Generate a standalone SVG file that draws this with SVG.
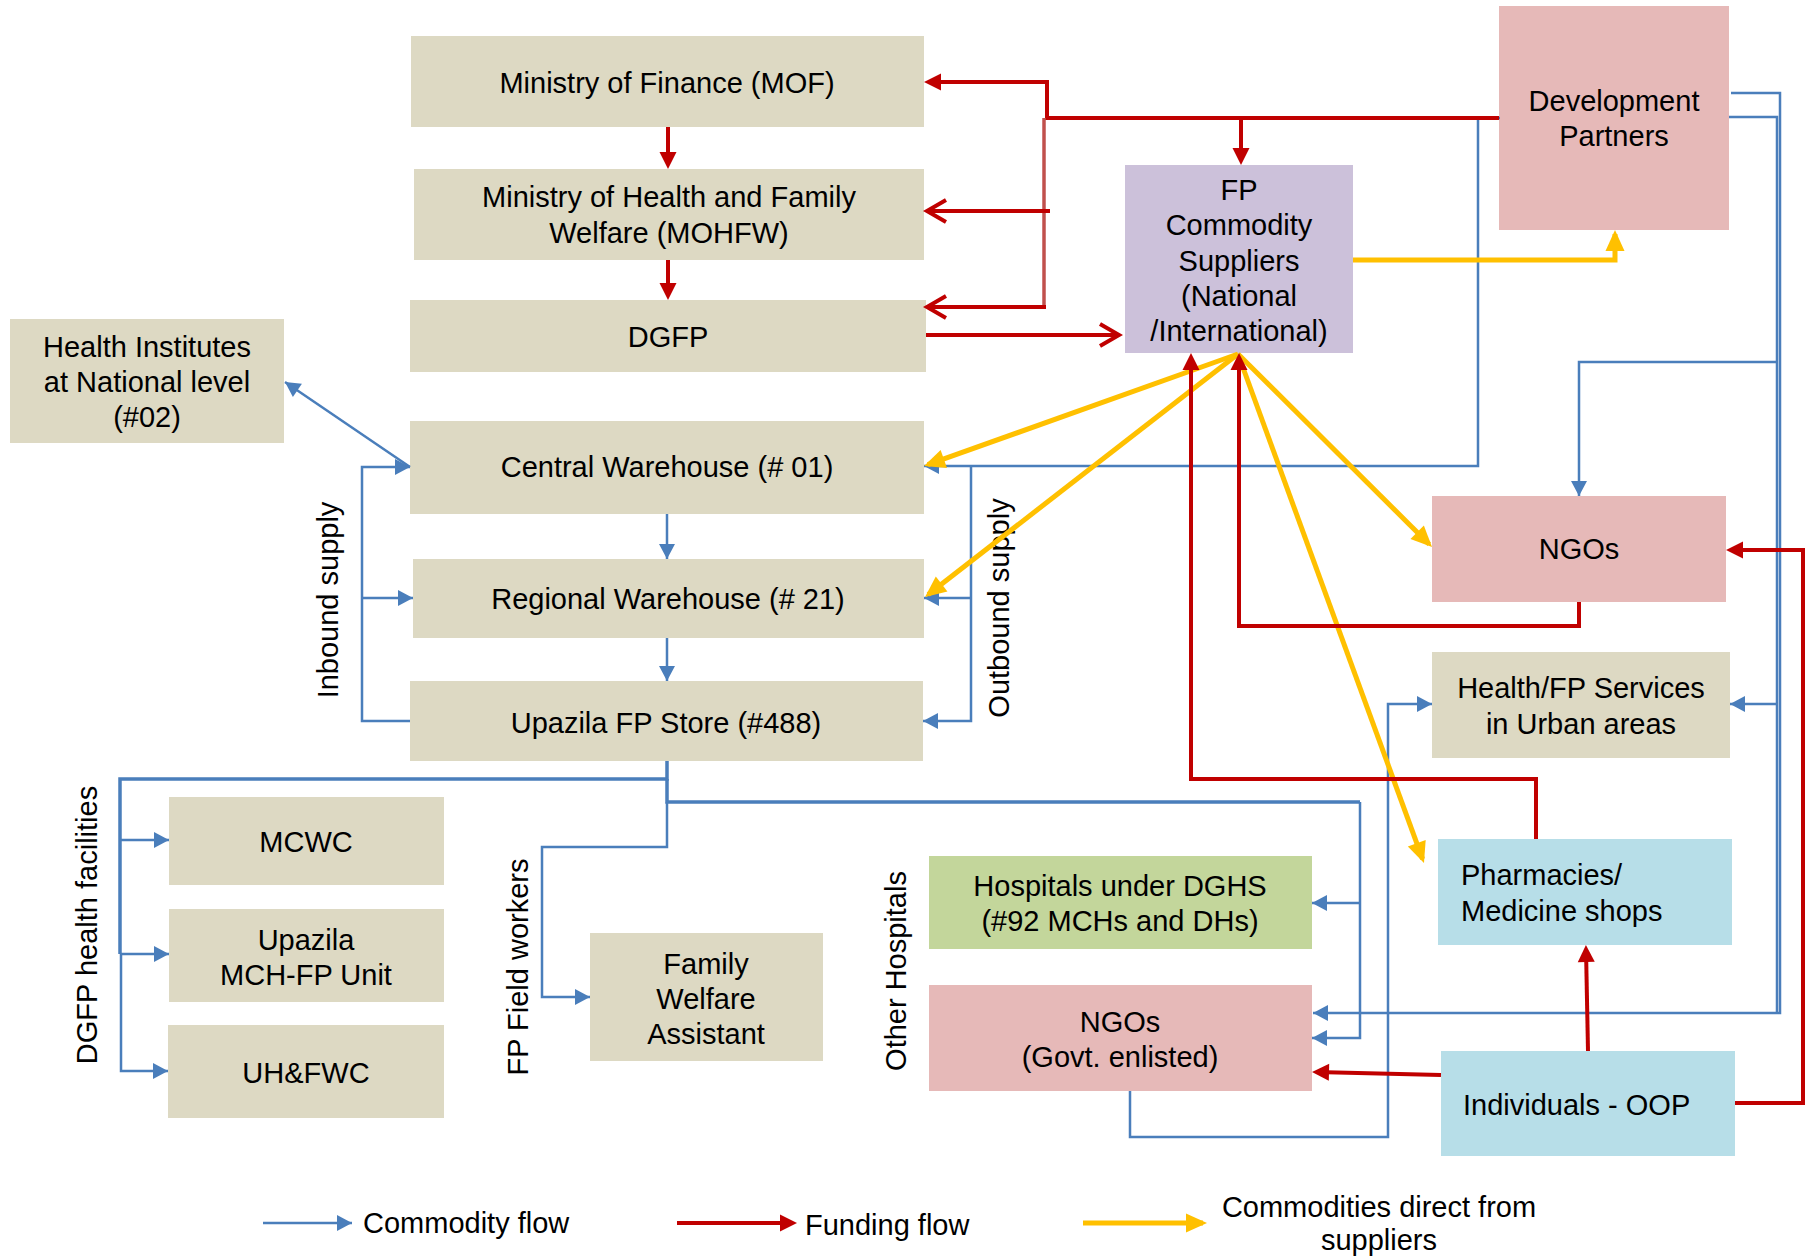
<svg xmlns="http://www.w3.org/2000/svg" width="1806" height="1256" viewBox="0 0 1806 1256">
<defs>
<style>
text{font-family:"Liberation Sans",Arial,sans-serif;font-size:29px;fill:#000}
.m{text-anchor:middle}
.tan{fill:#DDD9C3}.pink{fill:#E6B9B8}.lav{fill:#CCC1DA}.grn{fill:#C3D69B}.lb{fill:#B7DEE8}
path{fill:none;stroke-linejoin:miter}
.r{stroke:#C00000;stroke-width:4}
.r2{stroke:#C0504D;stroke-width:3.5}
.b{stroke:#4A7EBB;stroke-width:2.5}
.bt{stroke:#4A7EBB;stroke-width:3.5}
.y{stroke:#FFC000;stroke-width:5}
</style>
<marker id="ar" viewBox="0 0 17 17" markerWidth="17" markerHeight="17" refX="13" refY="8.5" orient="auto" markerUnits="userSpaceOnUse" overflow="visible"><path d="M0,0 L17,8.5 L0,17 Z" style="fill:#C00000;stroke:none"/></marker>
<marker id="ao" viewBox="0 0 22 24" markerWidth="22" markerHeight="24" refX="20" refY="12" orient="auto" markerUnits="userSpaceOnUse" overflow="visible"><path d="M1,1 L20,12 L1,23" style="fill:none;stroke:#C00000;stroke-width:4"/></marker>
<marker id="ab" viewBox="0 0 15 16" markerWidth="15" markerHeight="16" refX="15" refY="8" orient="auto" markerUnits="userSpaceOnUse" overflow="visible"><path d="M0,0 L15,8 L0,16 Z" style="fill:#4A7EBB;stroke:none"/></marker>
<marker id="ay" viewBox="0 0 21 19" markerWidth="21" markerHeight="19" refX="17" refY="9.5" orient="auto" markerUnits="userSpaceOnUse" overflow="visible"><path d="M0,0 L21,9.5 L0,19 Z" style="fill:#FFC000;stroke:none"/></marker>
</defs>
<rect width="1806" height="1256" fill="#fff"/>

<g id="nodes">
<g id="mof"><rect class="tan" x="411" y="36" width="513" height="91"/><text class="m" x="667" y="93">Ministry of Finance (MOF)</text></g>
<g id="mohfw"><rect class="tan" x="414" y="169" width="510" height="91"/><text class="m" x="669" y="207">Ministry of Health and Family</text><text class="m" x="669" y="243">Welfare (MOHFW)</text></g>
<g id="dgfp"><rect class="tan" x="410" y="300" width="516" height="72"/><text class="m" x="668" y="347">DGFP</text></g>
<g id="health-institutes"><rect class="tan" x="10" y="319" width="274" height="124"/><text class="m" x="147" y="357">Health Institutes</text><text class="m" x="147" y="392">at National level</text><text class="m" x="147" y="427">(#02)</text></g>
<g id="central-warehouse"><rect class="tan" x="410" y="421" width="514" height="93"/><text class="m" x="667" y="477">Central Warehouse (# 01)</text></g>
<g id="regional-warehouse"><rect class="tan" x="413" y="559" width="511" height="79"/><text class="m" x="668" y="609">Regional Warehouse (# 21)</text></g>
<g id="upazila-store"><rect class="tan" x="410" y="681" width="513" height="80"/><text class="m" x="666" y="733">Upazila FP Store (#488)</text></g>
<g id="mcwc"><rect class="tan" x="169" y="797" width="275" height="88"/><text class="m" x="306" y="852">MCWC</text></g>
<g id="mchfp"><rect class="tan" x="169" y="909" width="275" height="93"/><text class="m" x="306" y="950">Upazila</text><text class="m" x="306" y="985">MCH-FP Unit</text></g>
<g id="uhfwc"><rect class="tan" x="168" y="1025" width="276" height="93"/><text class="m" x="306" y="1083">UH&amp;FWC</text></g>
<g id="fwa"><rect class="tan" x="590" y="933" width="233" height="128"/><text class="m" x="706" y="974">Family</text><text class="m" x="706" y="1009">Welfare</text><text class="m" x="706" y="1044">Assistant</text></g>
<g id="suppliers"><rect class="lav" x="1125" y="165" width="228" height="188"/><text class="m" x="1239" y="200">FP</text><text class="m" x="1239" y="235">Commodity</text><text class="m" x="1239" y="270.5">Suppliers</text><text class="m" x="1239" y="306">(National</text><text class="m" x="1239" y="341">/International)</text></g>
<g id="dev-partners"><rect class="pink" x="1499" y="6" width="230" height="224"/><text class="m" x="1614" y="111">Development</text><text class="m" x="1614" y="146">Partners</text></g>
<g id="ngos"><rect class="pink" x="1432" y="496" width="294" height="106"/><text class="m" x="1579" y="559">NGOs</text></g>
<g id="urban-services"><rect class="tan" x="1432" y="652" width="298" height="106"/><text class="m" x="1581" y="698">Health/FP Services</text><text class="m" x="1581" y="734">in Urban areas</text></g>
<g id="pharmacies"><rect class="lb" x="1438" y="839" width="294" height="106"/><text x="1461" y="885">Pharmacies/</text><text x="1461" y="921">Medicine shops</text></g>
<g id="individuals"><rect class="lb" x="1441" y="1051" width="294" height="105"/><text x="1463" y="1115">Individuals - OOP</text></g>
<g id="hospitals"><rect class="grn" x="929" y="856" width="383" height="93"/><text class="m" x="1120" y="896">Hospitals under DGHS</text><text class="m" x="1120" y="931">(#92 MCHs and DHs)</text></g>
<g id="ngos-govt"><rect class="pink" x="929" y="985" width="383" height="106"/><text class="m" x="1120" y="1032">NGOs</text><text class="m" x="1120" y="1067">(Govt. enlisted)</text></g>
</g>

<g id="group-labels">
<text class="m" transform="translate(338,600) rotate(-90)">Inbound supply</text>
<text class="m" transform="translate(1009,608) rotate(-90)">Outbound supply</text>
<text class="m" transform="translate(97,925) rotate(-90)">DGFP health facilities</text>
<text class="m" transform="translate(528,967) rotate(-90)">FP Field workers</text>
<text class="m" transform="translate(906,971) rotate(-90)">Other Hospitals</text>
</g>

<g id="connectors">
<!-- commodity flow (blue) -->
<path class="b" d="M410,467 L285,382" marker-end="url(#ab)"/>
<path class="b" d="M410,721 H362 V467 H410" marker-end="url(#ab)"/>
<path class="b" d="M362,598 H413" marker-end="url(#ab)"/>
<path class="b" d="M667,514 V559" marker-end="url(#ab)"/>
<path class="b" d="M667,638 V681" marker-end="url(#ab)"/>
<path class="b" d="M971,467 V721 H923" marker-end="url(#ab)"/>
<path class="b" d="M971,598 H924" marker-end="url(#ab)"/>
<path class="b" d="M1500,118 H1478 V466 H924" marker-end="url(#ab)"/>
<path class="b" d="M1731,93 H1780 V1013 H1313" marker-end="url(#ab)"/>
<path class="b" d="M1729,117 H1777 V1013"/>
<path class="b" d="M1777,362 H1579 V496" marker-end="url(#ab)"/>
<path class="b" d="M1778,704 H1730" marker-end="url(#ab)"/>
<path class="bt" d="M667,761 V779 H120 V954"/>
<path class="b" d="M121,954 V1071 H168" marker-end="url(#ab)"/>
<path class="b" d="M121,840 H169" marker-end="url(#ab)"/>
<path class="b" d="M121,954 H169" marker-end="url(#ab)"/>
<path class="bt" d="M667,779 V802 H1360"/>
<path class="b" d="M1360,802 V1038 H1312" marker-end="url(#ab)"/>
<path class="b" d="M1360,903 H1312" marker-end="url(#ab)"/>
<path class="b" d="M667,802 V847 H542 V997 H590" marker-end="url(#ab)"/>
<path class="b" d="M1130,1091 V1137 H1388 V704 H1432" marker-end="url(#ab)"/>
<!-- commodities direct from suppliers (yellow) -->
<path class="y" d="M1238,354 L927.8,464.7" marker-end="url(#ay)"/>
<path class="y" d="M1238,354 L928.2,594.5" marker-end="url(#ay)"/>
<path class="y" d="M1238,354 L1429.2,544.2" marker-end="url(#ay)"/>
<path class="y" d="M1238,354 L1422.6,859.2" marker-end="url(#ay)"/>
<path class="y" d="M1353,260 H1615 V234" marker-end="url(#ay)"/>
<!-- funding flow (red) -->
<path class="r" d="M668,127 V165" marker-end="url(#ar)"/>
<path class="r" d="M668,260 V296" marker-end="url(#ar)"/>
<path class="r" d="M1499,118 H1047 V82 H928" marker-end="url(#ar)"/>
<path class="r" d="M1241,118 V161" marker-end="url(#ar)"/>
<path class="r2" d="M1044,118 V307"/>
<path class="r" d="M1050,211 H927" marker-end="url(#ao)"/>
<path class="r" d="M1046,307 H927" marker-end="url(#ao)"/>
<path class="r" d="M926,335 H1119" marker-end="url(#ao)"/>
<path class="r" d="M1579,602 V626 H1239 V357" marker-end="url(#ar)"/>
<path class="r" d="M1536,839 V779 H1191 V357" marker-end="url(#ar)"/>
<path class="r" d="M1588,1051 L1586,949" marker-end="url(#ar)"/>
<path class="r" d="M1441,1075 L1316,1072" marker-end="url(#ar)"/>
<path class="r" d="M1735,1103 H1803 V550 H1730" marker-end="url(#ar)"/>
</g>

<g id="legend">
<path class="b" d="M263,1223 H352" marker-end="url(#ab)"/>
<text x="363" y="1233">Commodity flow</text>
<path class="r" d="M677,1223 H793" marker-end="url(#ar)"/>
<text x="805" y="1235">Funding flow</text>
<path class="y" d="M1083,1223 H1203" marker-end="url(#ay)"/>
<text class="m" x="1379" y="1217">Commodities direct from</text>
<text class="m" x="1379" y="1250">suppliers</text>
</g>
</svg>
